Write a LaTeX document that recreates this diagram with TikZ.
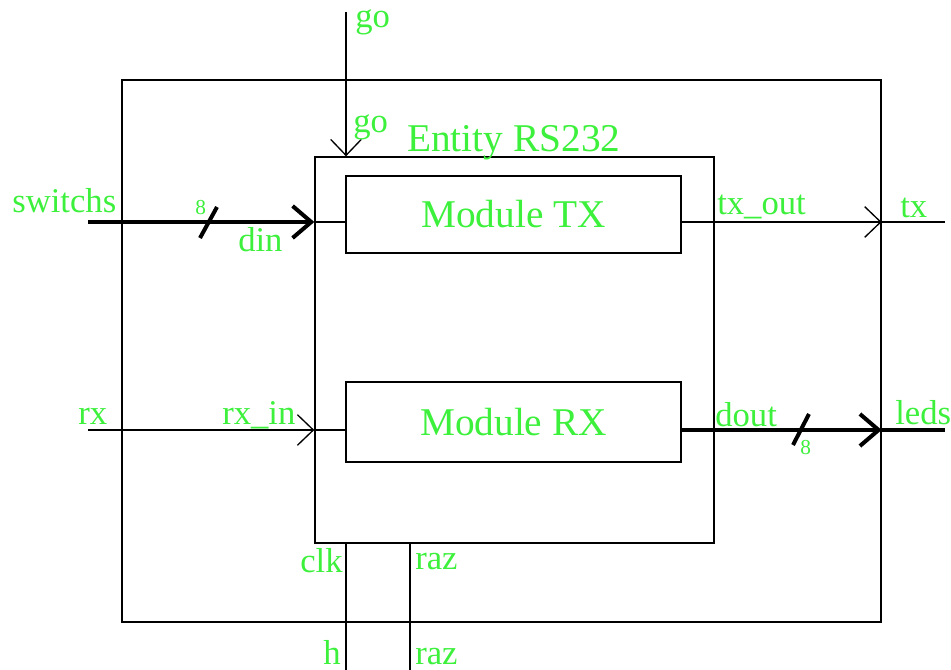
\documentclass[tikz,border=0pt]{standalone}
\usepackage{fontspec}
\setmainfont{Liberation Serif}
\usetikzlibrary{arrows.meta}
\definecolor{vert}{HTML}{3CF03C}

\begin{document}
\begin{tikzpicture}[x=0.75pt,y=-0.75pt,
    fil/.style={line width=1pt},
    bus/.style={line width=3pt},
    fleche/.style={-{Straight Barb[length=12pt,width=23pt]}},
    flechebus/.style={-{Straight Barb[length=14pt,width=24pt]}},
    boite/.style={draw,line width=1pt,inner sep=0pt},
    module/.style={boite,text=vert,minimum width=335*0.75pt,font=\fontsize{29.5}{30}\selectfont},
    sig/.style={text=vert,inner sep=0pt,anchor=base west,font=\fontsize{26}{26}\selectfont},
    titre/.style={sig,font=\fontsize{29.5}{30}\selectfont},
    taille/.style={sig,font=\fontsize{16}{16}\selectfont}]

\useasboundingbox (0,0) rectangle (951,670);

% Boites
\node[boite,minimum width=759*0.75pt,minimum height=542*0.75pt] (carte) at (501.5,351) {};
\node[boite,minimum width=399*0.75pt,minimum height=386*0.75pt] (entite) at (514.5,350) {};
\node[module,minimum height=77*0.75pt] (mtx) at (513.5,214.5) {Module TX};
\node[module,minimum height=80*0.75pt] (mrx) at (513.5,422) {Module RX};
\node[titre] (nom) at (407,152) {Entity RS232};

% Extremites libres
\coordinate (go) at (346,12);
\coordinate (sw) at (88,222);
\coordinate (tx) at (945,222);
\coordinate (rx) at (88,430);
\coordinate (leds) at (945,430);
\coordinate (h) at (346,670);
\coordinate (raz) at (410,670);

% Entree go
\draw[fil,fleche] (go) -- (go |- entite.north);

% Bus switchs -> din
\draw[bus,flechebus] (sw) -- (sw -| entite.west);
\draw[fil] (sw -| entite.west) -- (sw -| mtx.west);
\draw[bus] (200,238) -- (217,207);

% Sortie tx
\draw[fil,fleche] (tx -| mtx.east) -- (tx -| carte.east);
\draw[fil] (tx -| carte.east) -- (tx);

% Entree rx
\draw[fil,fleche] (rx) -- (rx -| entite.west);
\draw[fil] (rx -| entite.west) -- (rx -| mrx.west);

% Bus dout -> leds
\draw[bus,flechebus] (rx -| mrx.east) -- (rx -| carte.east);
\draw[bus] (rx -| carte.east) -- (leds);
\draw[bus] (793,445) -- (809,414);

% Horloge et reset
\draw[fil] (h |- entite.south) -- (h);
\draw[fil] (raz |- entite.south) -- (raz);

% Noms des signaux
\node[sig] (lgo) at (355,28) {go};
\node[sig] (lgoin) at (353,133) {go};
\node[sig] (lsw) at (12,213) {switchs};
\node[taille] (lhuit) at (195,215) {8};
\node[sig] (ldin) at (238,252) {din};
\node[sig] (ltxout) at (717,215) {tx\_out};
\node[sig] (ltx) at (900,218) {tx};
\node[sig] (lrx) at (78,425) {rx};
\node[sig] (lrxin) at (222,425) {rx\_in};
\node[sig] (ldout) at (715,427) {dout};
\node[taille] (lhuitb) at (800,455) {8};
\node[sig] (lleds) at (895,425) {leds};
\node[sig] (lclk) at (300,573) {clk};
\node[sig] (lraz) at (415,570) {raz};
\node[sig] (lh) at (323,664) {h};
\node[sig] (lrazb) at (415,664) {raz};
\end{tikzpicture}
\end{document}
